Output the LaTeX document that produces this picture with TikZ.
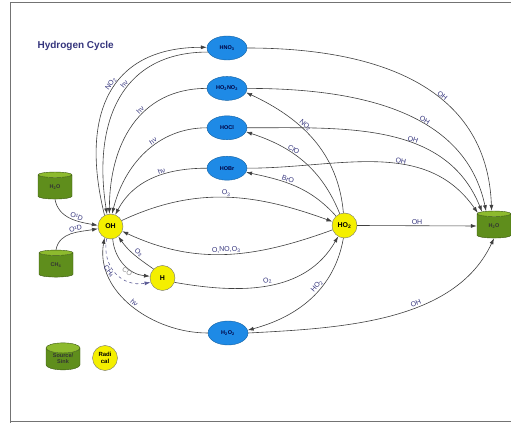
\documentclass[tikz,border=0pt]{standalone}
\usepackage{fontspec}
\setmainfont{Liberation Sans}
\usetikzlibrary{positioning,shapes.geometric,arrows.meta}

\definecolor{molblue}{HTML}{1E8AE6}
\definecolor{radyellow}{HTML}{F4EF00}
\definecolor{tankgreen}{HTML}{5F8E1C}
\definecolor{tanktop}{HTML}{8DBA2E}
\definecolor{lblblue}{HTML}{34347C}

\newcommand{\chsub}[1]{\textsubscript{#1}}

\tikzset{
  species/.style={ellipse, fill=molblue, draw=molblue!70!black, minimum width=40pt, minimum height=24pt, inner sep=0pt, text=black!75!blue, font=\fontsize{5.5}{6}\selectfont\bfseries},
  radical/.style={circle, fill=radyellow, draw=black!55, minimum size=25pt, inner sep=0pt, font=\fontsize{7}{7}\selectfont\bfseries},
  tank/.style={cylinder, shape border rotate=90, aspect=0.5, draw=tankgreen!60!black, cylinder uses custom fill, cylinder body fill=tankgreen, cylinder end fill=tanktop, minimum width=34pt, minimum height=27pt, inner sep=0pt, text=black!80, font=\fontsize{5.5}{6}\selectfont\bfseries},
  rxn/.style={draw=black!75, line width=0.6pt, -{Latex[length=6pt,width=4pt]}},
  lbl/.style={font=\fontsize{7}{7}\selectfont, text=lblblue, sloped, above, inner sep=1pt},
  frame/.style={draw=black!55, line width=0.8pt},
}

\begin{document}
\begin{tikzpicture}[x=1pt,y=1pt,node distance=16pt]
\useasboundingbox (0,0) rectangle (511,423);
\draw[frame] (511,421) -- (10,421) -- (10,0);
\draw[frame] (10,2) -- (511,2);

\node[anchor=west, text=lblblue, font=\fontsize{10}{10}\selectfont\bfseries] (title) at (34,377) {Hydrogen Cycle};

% reservoirs
\node[species] (hno3) at (227,375) {HNO\chsub{3}};
\node[species, below=of hno3] (ho2no2) {HO\chsub{2}NO\chsub{2}};
\node[species, below=15pt of ho2no2] (hocl) {HOCl};
\node[species, below=of hocl] (hobr) {HOBr};
\node[species] (h2o2) at (228,90) {H\chsub{2}O\chsub{2}};

% radicals
\node[radical] (oh) at (110.5,196.5) {OH};
\node[radical] (h) at (162.5,145) {H};
\node[radical] (ho2) at (344.5,197.5) {HO\chsub{2}};

% sources and sinks
\node[tank] (h2oR) at (494,197) {H\chsub{2}O};
\node[tank] (h2oL) at (55,236) {H\chsub{2}O};
\node[tank] (ch4) at (56,158) {CH\chsub{4}};

% legend
\node[tank, align=center] (keytank) at (63,64) {Source/\\Sink};
\node[radical, align=center, font=\fontsize{6}{6.5}\selectfont\bfseries] (keyrad) at (105,65) {Radi\\cal};

% sources into OH
\draw[rxn] (h2oL.south) to[out=-80,in=170] node[lbl,pos=0.6]{O¹D} (oh.175);
\draw[rxn] (ch4.north) to[out=80,in=190] node[lbl,pos=0.6]{O¹D} (oh.190);

% photolysis back to OH
\draw[rxn] (oh.118) to[out=104,in=180,looseness=1.3] node[lbl,pos=0.55]{NO\chsub{2}} (hno3.178);
\draw[rxn] (hno3.192) to[out=180,in=99,looseness=1.2] node[lbl,pos=0.42]{hν} (oh.106);
\draw[rxn] (ho2no2.west) to[out=180,in=90,looseness=1.1] node[lbl,pos=0.4]{hν} (oh.95);
\draw[rxn] (hocl.west) to[out=180,in=76] node[lbl,pos=0.4]{hν} (oh.83);
\draw[rxn] (hobr.west) to[out=180,in=62] node[lbl,pos=0.4]{hν} (oh.68);
\draw[rxn] (h2o2.west) to[out=180,in=-100] node[lbl]{hν} (oh.-118);

% OH <-> HO2 <-> H
\draw[rxn] (oh.28) to[out=25,in=160] node[lbl]{O\chsub{3}} (ho2.162);
\draw[rxn] (ho2.200) to[out=200,in=-25] node[lbl]{O,NO,O\chsub{3}} (oh.-22);
\draw[rxn] (h.135) to[out=145,in=-55] node[lbl,pos=0.45]{O\chsub{3}} (oh.-52);
\draw[rxn] (oh.-80) to[out=-85,in=175] node[lbl,pos=0.62,below,text=black!45]{CO} (h.172);
\draw[rxn, dashed, draw=lblblue!80] (oh.-108) to[out=-100,in=190,looseness=1.2] node[lbl,pos=0.42,below]{CH\chsub{4}} (h.200);
\draw[rxn] (h.-20) to[out=-10,in=-120] node[lbl]{O\chsub{2}} (ho2.-120);

% HO2 into reservoirs
\draw[rxn] (ho2.95) to[out=95,in=-25] node[lbl,pos=0.6]{NO\chsub{2}} (ho2no2.-12);
\draw[rxn] (ho2.112) to[out=112,in=-18] node[lbl,pos=0.62]{ClO} (hocl.-12);
\draw[rxn] (ho2.132) to[out=132,in=-12] node[lbl,pos=0.6]{BrO} (hobr.-12);
\draw[rxn] (ho2.-95) to[out=-100,in=15] node[lbl,pos=0.4]{HO\chsub{2}} (h2o2.8);

% sinks to water
\draw[rxn] (ho2.east) -- node[lbl]{OH} (h2oR.west);
\draw[rxn] (hno3.east) to[out=0,in=92,looseness=1.1] node[lbl,pos=0.6]{OH} (h2oR.99);
\draw[rxn] (ho2no2.east) to[out=0,in=102] node[lbl,pos=0.6]{OH} (h2oR.118);
\draw[rxn] (hocl.east) to[out=0,in=112] node[lbl,pos=0.6]{OH} (h2oR.130);
\draw[rxn] (hobr.east) to[out=0,in=125] node[lbl,pos=0.6]{OH} (h2oR.141);
\draw[rxn] (h2o2.east) to[out=3,in=-115,looseness=0.9] node[lbl,pos=0.6]{OH} (h2oR.south);
\end{tikzpicture}
\end{document}
